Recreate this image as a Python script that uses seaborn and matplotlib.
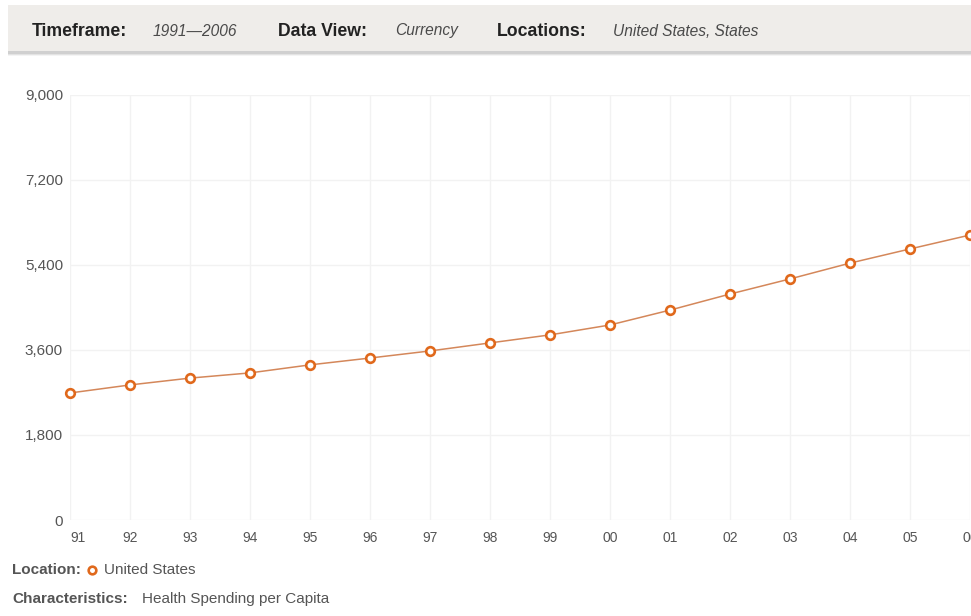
import matplotlib
matplotlib.use("Agg")
import matplotlib.pyplot as plt
from matplotlib.patches import Rectangle
from matplotlib.lines import Line2D
import seaborn as sns
import pandas as pd

# ---- data ----
years = ["91", "92", "93", "94", "95", "96", "97", "98",
         "99", "00", "01", "02", "03", "04", "05", "06"]
spending = [2690, 2860, 3005, 3115, 3285, 3430, 3580, 3750,
            3920, 4130, 4445, 4785, 5105, 5440, 5740, 6035]
y_ticks = [0, 1800, 3600, 5400, 7200, 9000]
y_tick_labels = ["0", "1,800", "3,600", "5,400", "7,200", "9,000"]

header_items = [("Timeframe:", "1991\u20142006"),
                ("Data View:", "Currency"),
                ("Locations:", "United States, States")]
location_name = "United States"
characteristic = "Health Spending per Capita"

df = pd.DataFrame({"pos": range(len(years)), "value": spending})

sns.set_theme(style="white")
plt.rcParams["font.family"] = ["Liberation Sans", "DejaVu Sans"]

W, H = 971, 616
fig = plt.figure(figsize=(W / 100, H / 100), dpi=100)
fig.patch.set_facecolor("white")

def fx(px):
    return px / W

def fy(py):
    return 1 - py / H

# header bar with shadow
for alpha, off in [(0.10, 4), (0.18, 3), (0.25, 2)]:
    fig.patches.append(Rectangle((fx(8), fy(52 + off)), fx(W - 8) + 0.01, 48 / H,
                                 transform=fig.transFigure, facecolor="#9a9a9a",
                                 alpha=alpha, edgecolor="none", zorder=0))
fig.patches.append(Rectangle((fx(8), fy(51)), fx(W - 8) + 0.01, 46 / H,
                             transform=fig.transFigure, facecolor="#efedea",
                             edgecolor="none", zorder=1))

label_x = [32, 278, 497]
value_x = [153, 395, 613]
for (lab, val), lx, vx in zip(header_items, label_x, value_x):
    fig.text(fx(lx), fy(31), lab, fontsize=12.7, fontweight="bold", color="#222222",
             va="center", ha="left", zorder=3)
    fig.text(fx(vx), fy(31), val, fontsize=11.2, fontstyle="italic", color="#4a4a4a",
             va="center", ha="left", zorder=3)

# main axes
ax = fig.add_axes([fx(70), fy(520), fx(900), 425 / H])
ax.set_facecolor("white")
sns.lineplot(data=df, x="pos", y="value", ax=ax, color="#d4875a", linewidth=1.1,
             marker="o", markersize=6.2, markerfacecolor="white",
             markeredgecolor="#e0691c", markeredgewidth=1.9, clip_on=False, zorder=5)

ax.set_xlim(0, len(years) - 1)
ax.set_ylim(0, 9000)
ax.set_yticks(y_ticks)
ax.set_yticklabels(y_tick_labels)
ax.set_xticks(list(range(len(years))))
ax.set_xticklabels(years)
for i, t in enumerate(ax.get_xticklabels()):
    if i == 0:
        t.set_ha("left")
ax.tick_params(axis="y", length=0, pad=5, labelsize=11, labelcolor="#555555")
ax.tick_params(axis="x", length=0, pad=8, labelsize=10, labelcolor="#555555")
ax.grid(True, color="#f2f2f2", linewidth=1.0)
for s in ax.spines.values():
    s.set_visible(False)
ax.set_xlabel("")
ax.set_ylabel("")

# bottom legend
fig.text(fx(12), fy(570), "Location:", fontsize=11, fontweight="bold",
         color="#555555", va="center", ha="left")
fig.add_artist(Line2D([fx(92)], [fy(570)], marker="o", markersize=5.5,
                      markerfacecolor="white", markeredgecolor="#e0691c",
                      markeredgewidth=1.9, transform=fig.transFigure))
fig.text(fx(104), fy(570), location_name, fontsize=11, color="#555555",
         va="center", ha="left")
fig.text(fx(12), fy(599), "Characteristics:", fontsize=11, fontweight="bold",
         color="#555555", va="center", ha="left")
fig.text(fx(142), fy(599), characteristic, fontsize=11, color="#555555",
         va="center", ha="left")

fig.savefig("out.png", dpi=100)
